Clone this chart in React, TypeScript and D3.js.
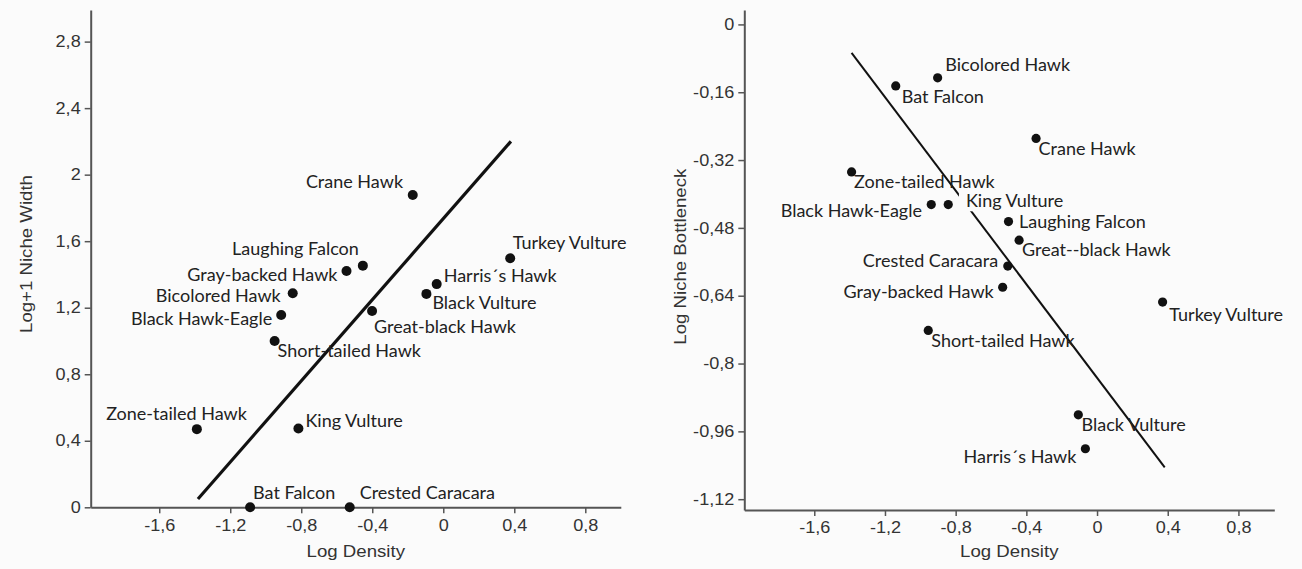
import React, { useEffect, useRef } from "react";
import * as d3 from "d3";

// ---------- DATA ----------
const leftSpecies = [
  "Crane Hawk", "Turkey Vulture", "Laughing Falcon", "Gray-backed Hawk", "Harris´s Hawk",
  "Black Vulture", "Bicolored Hawk", "Black Hawk-Eagle", "Great-black Hawk", "Short-tailed Hawk",
  "Zone-tailed Hawk", "King Vulture", "Bat Falcon", "Crested Caracara",
];
const leftDensity = [-0.172, 0.377, -0.453, -0.545, -0.037, -0.095, -0.848, -0.913, -0.401, -0.95, -1.388, -0.816, -1.088, -0.527];
const leftNicheWidth = [1.878, 1.497, 1.453, 1.421, 1.342, 1.283, 1.287, 1.156, 1.18, 1.0, 0.47, 0.474, 0, 0];
const leftFitX = [-1.382, 0.381];
const leftFitY = [0.05, 2.2];

const rightSpecies = [
  "Bicolored Hawk", "Bat Falcon", "Crane Hawk", "Zone-tailed Hawk", "Black Hawk-Eagle",
  "King Vulture", "Laughing Falcon", "Great--black Hawk", "Crested Caracara", "Gray-backed Hawk",
  "Turkey Vulture", "Short-tailed Hawk", "Black Vulture", "Harris´s Hawk",
];
const rightDensity = [-0.902, -1.139, -0.345, -1.389, -0.938, -0.842, -0.501, -0.441, -0.505, -0.534, 0.371, -0.955, -0.106, -0.066];
const rightBottleneck = [-0.126, -0.145, -0.269, -0.348, -0.425, -0.425, -0.465, -0.509, -0.57, -0.62, -0.655, -0.722, -0.921, -1.001];
const rightFitX = [-1.389, 0.383];
const rightFitY = [-0.067, -1.045];

const xTicks = [-1.6, -1.2, -0.8, -0.4, 0, 0.4, 0.8];
const xTickLabels = ["-1,6", "-1,2", "-0,8", "-0,4", "0", "0,4", "0,8"];
const leftYTicks = [0, 0.4, 0.8, 1.2, 1.6, 2, 2.4, 2.8];
const leftYTickLabels = ["0", "0,4", "0,8", "1,2", "1,6", "2", "2,4", "2,8"];
const rightYTicks = [0, -0.16, -0.32, -0.48, -0.64, -0.8, -0.96, -1.12];
const rightYTickLabels = ["0", "-0,16", "-0,32", "-0,48", "-0,64", "-0,8", "-0,96", "-1,12"];

// ---------- LAYOUT (label placement relative to the dot) ----------
type Place = [number, number, "start" | "end", boolean?];
const leftLabelPlace: Place[] = [
  [-9.7, -13.3, "end"], [2.5, -16, "start"], [-4, -17, "end"], [-9, 3.7, "end"], [7, -8, "start"],
  [6, 9, "start"], [-12, 2, "end"], [-9, 4, "end"], [2, 15.6, "start"], [3, 10, "start"],
  [50, -15.6, "end"], [7, -8, "start"], [3, -15, "start"], [10, -14.5, "start"],
];
const rightLabelPlace: Place[] = [
  [7.6, -13, "start"], [6, 10.6, "start"], [2.5, 10, "start"], [2.5, 9.4, "start"], [-9.3, 6, "end"],
  [17.7, -3.6, "start", true], [10.5, 0, "start"], [3, 10, "start"], [-9.7, -5, "end"], [-9, 4, "end"],
  [6.7, 12.7, "start"], [3, 10, "start"], [3.3, 10, "start"], [-9, 8.4, "end"],
];

const W = 1302;
const H = 569;
const TICK_FONT = "'Liberation Sans', Arial, sans-serif";
const LABEL_FONT = "Lato, 'Open Sans', sans-serif";

interface Panel {
  species: string[];
  xs: number[];
  ys: number[];
  fitX: number[];
  fitY: number[];
  place: Place[];
  xDomain: [number, number];
  yDomain: [number, number];
  left: number;
  right: number;
  top: number;
  bottom: number;
  yTicks: number[];
  yTickLabels: string[];
  yTitle: string;
  yTitleX: number;
  yTitleY: number;
  dotR: number;
  lineW: number;
}

function drawPanel(svg: d3.Selection<SVGSVGElement, unknown, null, undefined>, p: Panel) {
  const x = d3.scaleLinear().domain(p.xDomain).range([p.left, p.right]);
  const y = d3.scaleLinear().domain(p.yDomain).range([p.bottom, p.top]);
  const g = svg.append("g");
  const sx = 1.13;

  // x axis
  const gx = g.append("g").attr("transform", `translate(0,${p.bottom})`)
    .call(d3.axisBottom(x).tickValues(xTicks).tickFormat((_d, i) => xTickLabels[i]).tickSize(6).tickSizeOuter(0).tickPadding(6));
  gx.select(".domain").attr("stroke", "#555").attr("stroke-width", 2);
  gx.selectAll(".tick line").attr("stroke", "#555").attr("stroke-width", 1.5);
  gx.selectAll(".tick text").attr("font-family", TICK_FONT).attr("font-size", 16).attr("fill", "#333")
    .attr("transform", `scale(${sx},1)`);

  // y axis
  const gy = g.append("g").attr("transform", `translate(${p.left},0)`)
    .call(d3.axisLeft(y).tickValues(p.yTicks).tickFormat((_d, i) => p.yTickLabels[i]).tickSize(6).tickSizeOuter(0).tickPadding(4));
  gy.select(".domain").attr("stroke", "#555").attr("stroke-width", 2);
  gy.selectAll(".tick line").attr("stroke", "#555").attr("stroke-width", 1.5);
  gy.selectAll(".tick text").attr("font-family", TICK_FONT).attr("font-size", 16).attr("fill", "#333")
    .attr("x", -10 / sx).attr("transform", `scale(${sx},1)`);

  // titles
  g.append("text").attr("transform", `translate(${(p.left + p.right) / 2},551) scale(${sx},1)`)
    .attr("text-anchor", "middle").attr("dy", "0.35em").attr("font-family", TICK_FONT).attr("font-size", 16.5)
    .attr("fill", "#333").text("Log Density");
  g.append("text").attr("transform", `translate(${p.yTitleX},${p.yTitleY}) rotate(-90) scale(${sx},1)`)
    .attr("text-anchor", "middle").attr("dy", "0.35em").attr("font-family", TICK_FONT).attr("font-size", 16.5)
    .attr("fill", "#333").text(p.yTitle);

  // regression line
  const line = d3.line<number>().x((_d, i) => x(p.fitX[i])).y((d) => y(d));
  g.append("path").attr("d", line(p.fitY)).attr("fill", "none").attr("stroke", "#111").attr("stroke-width", p.lineW);

  // labels
  p.species.forEach((name, i) => {
    const [dx, dy, anchor, bg] = p.place[i];
    const cx = x(p.xs[i]);
    const cy = y(p.ys[i]);
    const t = g.append("text").attr("x", cx + dx).attr("y", cy + dy).attr("dy", "0.35em")
      .attr("text-anchor", anchor).attr("font-family", LABEL_FONT).attr("font-size", 18)
      .attr("fill", "#222").text(name);
    if (bg) {
      const b = (t.node() as SVGTextElement).getBBox();
      g.insert("rect", () => t.node() as SVGTextElement)
        .attr("x", b.x - 7).attr("y", b.y).attr("width", b.width + 8).attr("height", b.height)
        .attr("fill", "#fbfbfb");
    }
  });

  // dots
  g.selectAll("circle.dot").data(p.xs).enter().append("circle")
    .attr("cx", (d) => x(d)).attr("cy", (_d, i) => y(p.ys[i])).attr("r", p.dotR).attr("fill", "#111");
}

export default function App() {
  const ref = useRef<SVGSVGElement>(null);
  useEffect(() => {
    const svg = d3.select(ref.current as SVGSVGElement);
    svg.selectAll("*").remove();
    svg.append("rect").attr("width", W).attr("height", H).attr("fill", "#fbfbfb");
    drawPanel(svg, {
      species: leftSpecies, xs: leftDensity, ys: leftNicheWidth, fitX: leftFitX, fitY: leftFitY,
      place: leftLabelPlace, xDomain: [-1.986, 1], yDomain: [0, 2.99],
      left: 90.7, right: 620.8, top: 10, bottom: 507.3,
      yTicks: leftYTicks, yTickLabels: leftYTickLabels, yTitle: "Log+1 Niche Width",
      yTitleX: 26.5, yTitleY: 254, dotR: 5, lineW: 3.2,
    });
    drawPanel(svg, {
      species: rightSpecies, xs: rightDensity, ys: rightBottleneck, fitX: rightFitX, fitY: rightFitY,
      place: rightLabelPlace, xDomain: [-1.996, 1.003], yDomain: [-1.1455, 0.034],
      left: 744.3, right: 1274.3, top: 10, bottom: 510,
      yTicks: rightYTicks, yTickLabels: rightYTickLabels, yTitle: "Log Niche Bottleneck",
      yTitleX: 680, yTitleY: 256.7, dotR: 4.6, lineW: 2,
    });
  }, []);
  return <svg ref={ref} width={W} height={H} style={{ position: "fixed", left: 0, top: 0 }} />;
}
